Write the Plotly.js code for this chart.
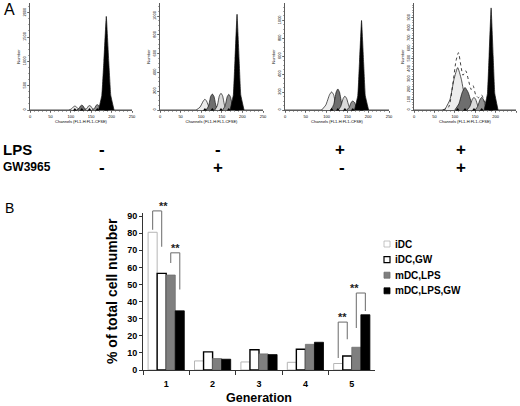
<!DOCTYPE html>
<html><head><meta charset="utf-8">
<script src="https://cdn.plot.ly/plotly-3.0.1.min.js"></script>
<style>html,body{margin:0;padding:0;background:#fff}#chart{width:520px;height:406px}</style>
</head><body><div id="chart"></div><script>
// ---------- Panel B data ----------
const generations = ['1','2','3','4','5'];
const seriesNames = ['iDC','iDC,GW','mDC,LPS','mDC,LPS,GW'];
const iDC      = [80.5, 5.3, 4.7, 4.5, 3.8];
const iDCGW    = [56.5, 10.6, 11.8, 12.1, 8.2];
const mDCLPS   = [55.5, 6.7, 9.4, 15.0, 13.3];
const mDCLPSGW = [34.6, 6.3, 9.0, 16.2, 32.3];
const barTicks = [0,10,20,30,40,50,60,70,80,90];
// significance brackets (generation index, left series, right series, levels)
const sigGen = [0, 0, 4, 4];
const sigLeft = [0, 2, 0, 2];
const sigRight = [1, 3, 1, 3];
const sigTop = [93, 68.5, 28, 45];
const sigLeftBottom = [82, 62.5, 7, 24.5];
const sigRightBottom = [72, 47, 18, 34.5];
const sigLabel = ['**','**','**','**'];

// ---------- Panel A data ----------
const lpsSigns = ['-','-','+','+'];
const gwSigns  = ['-','+','-','+'];
const channelTicks = [0,50,100,150,200,250];
const hist1Ticks = [0,500,1000,1500,2000];
const hist2Ticks = [0,200,400,600,800,1000];
const hist3Ticks = [0,200,400,600,800,1000];
const hist4Ticks = [0,100,200,300,400,500,600,700,800,900];
const histMax = [2200, 1140, 1195, 1045];

const hist1X = [[96,102,107,110,113,118,124],[114,120,124,127,130,134,140],[133,139,143,146,149,153,159],[152,158,162,165,168,172,178],[168,176,181,187,193,198,206]];
const hist1Y = [[0,25,70,80,70,25,0],[0,30,85,100,85,30,0],[0,28,78,90,78,28,0],[0,32,95,110,95,32,0],[0,300,1000,1925,1000,300,0]];
const hist2X = [[88,97,105,109,113,119,125],[112,118,123,127,131,136,142],[133,139,144,148,152,157,163],[152,158,163,167,171,176,182],[170,178,182,187,192,196,204]];
const hist2Y = [[0,30,95,115,95,30,0],[0,45,145,170,145,45,0],[0,45,150,178,150,45,0],[0,42,140,167,140,42,0],[0,160,540,1020,540,160,0]];
const hist3X = [[88,98,107,112,117,122,129],[110,117,123,127,131,137,144],[128,134,140,144,148,154,160],[148,154,159,163,167,172,178],[167,175,179,184,189,193,201]];
const hist3Y = [[0,55,170,202,170,55,0],[0,60,200,235,200,60,0],[0,40,130,154,130,40,0],[0,25,85,100,85,25,0],[0,160,530,1000,530,160,0]];
const hist4X = [[75,88,98,107,116,126,140],[100,110,118,125,133,142,155],[130,137,143,147,151,157,164],[150,156,162,166,170,176,182],[172,180,184,189,194,198,206]];
const hist4Y = [[0,100,300,414,300,100,0],[0,60,170,220,170,60,0],[0,35,105,123,105,35,0],[0,35,105,123,105,35,0],[0,160,530,997,530,160,0]];
const hist4EnvX = [70,85,95,103,109,115,120,127,133,140,145,151,158,166,172,178];
const hist4EnvY = [0,30,250,480,560,430,340,383,300,200,237,150,120,146,90,60];
const peakCenters1 = [110,127,146,165,187];
const peakCenters2 = [109,127,148,167,187];
const peakCenters3 = [112,127,144,163,184];
const peakCenters4 = [107,125,147,166,189];

// ---------- styles ----------
const FONT = 'Liberation Sans, Arial, sans-serif';
const peakFills = ['#ececec','#6e6e6e','#dadada','#8e8e8e','#000000'];
const histXDomains = [[30/520,132/520],[160/520,263/520],[285/520,389/520],[414/520,516/520]];
const histYDomain = [1-110/406, 1-3/406];
const barXDomain = [143/520, 375/520];
const barYDomain = [1-370/406, 1-212.6/406];
const barYMax = 92;

const traces = [];
const layout = {
  width:520, height:406, margin:{l:0,r:0,t:0,b:0},
  paper_bgcolor:'#fff', plot_bgcolor:'rgba(0,0,0,0)',
  showlegend:false, barmode:'group', bargap:0.22, bargroupgap:0,
  font:{family:FONT, color:'#000'},
  shapes:[], annotations:[]
};

const histX = [hist1X,hist2X,hist3X,hist4X];
const histY = [hist1Y,hist2Y,hist3Y,hist4Y];
const histTicks = [hist1Ticks,hist2Ticks,hist3Ticks,hist4Ticks];
const centers = [peakCenters1,peakCenters2,peakCenters3,peakCenters4];

for (let h=0; h<4; h++) {
  const xa = 'x'+(h+1), ya = 'y'+(h+1);
  traces.push({type:'scatter', mode:'lines', x:[0,250], y:[0,0], xaxis:xa, yaxis:ya,
    line:{color:'#222', width:0.8}, showlegend:false, hoverinfo:'skip'});
  for (let p=0; p<histX[h].length; p++) {
    const isMain = p === histX[h].length-1;
    traces.push({type:'scatter', mode:'lines', x:histX[h][p], y:histY[h][p], xaxis:xa, yaxis:ya,
      fill:'toself', fillcolor:peakFills[p], line:{color:'#111', width:0.7, shape:'spline', smoothing:isMain?0.25:0.5},
      showlegend:false, hoverinfo:'skip'});
  }
  if (h===3) {
    traces.push({type:'scatter', mode:'lines', x:hist4EnvX, y:hist4EnvY, xaxis:xa, yaxis:ya,
      line:{color:'#111', width:0.8, dash:'dot', shape:'spline', smoothing:0.6}, showlegend:false, hoverinfo:'skip'});
  }
  traces.push({type:'scatter', mode:'markers', x:centers[h], y:centers[h].map(()=>0), xaxis:xa, yaxis:ya,
    marker:{symbol:'triangle-up', size:4, color:'#000'}, cliponaxis:false, showlegend:false, hoverinfo:'skip'});

  layout['xaxis'+(h+1)] = {domain:histXDomains[h], anchor:ya, range:[0,250], showline:true, linecolor:'#333', linewidth:0.8,
    ticks:'outside', ticklen:2, tickwidth:0.6, tickcolor:'#333', tickvals:channelTicks, tickfont:{size:4, family:FONT},
    minor:{ticks:'outside', dtick:10, ticklen:1, tickwidth:0.5, tickcolor:'#555'},
    showgrid:false, zeroline:false, fixedrange:true,
    title:{text:'Channels (FL1-H:FL1-CFSE)', font:{size:4, family:FONT}, standoff:1}};
  const tks = histTicks[h];
  layout['yaxis'+(h+1)] = {domain:histYDomain, anchor:xa, range:[0,histMax[h]], showline:true, linecolor:'#333', linewidth:0.8,
    ticks:'outside', ticklen:2, tickwidth:0.6, tickcolor:'#333', tickvals:tks, tickangle:-90, tickfont:{size:4, family:FONT},
    minor:{ticks:'outside', dtick:(tks[1]-tks[0])/4, ticklen:1, tickwidth:0.5, tickcolor:'#555'},
    showgrid:false, zeroline:false, fixedrange:true,
    title:{text:'Number', font:{size:4, family:FONT}, standoff:1}};
}

// ---------- Panel B bars ----------
const barSeries = [iDC, iDCGW, mDCLPS, mDCLPSGW];
const barFill = ['#ffffff','#ffffff','#7f7f7f','#000000'];
const barLine = ['#b5b5b5','#000000','#6f6f6f','#000000'];
const barLineW = [1,1.4,0.8,0.8];
for (let s=0; s<4; s++) {
  traces.push({type:'bar', name:seriesNames[s], x:generations, y:barSeries[s], xaxis:'x5', yaxis:'y5',
    marker:{color:barFill[s], line:{color:barLine[s], width:barLineW[s]}}, hoverinfo:'skip'});
}
layout.xaxis5 = {domain:barXDomain, anchor:'y5', type:'category', showline:true, linecolor:'#333', linewidth:1,
  ticks:'outside', tickson:'boundaries', ticklen:4, tickcolor:'#333', ticklabelstandoff:5,
  tickfont:{size:9, family:FONT, weight:'bold'}, showgrid:false, zeroline:false, fixedrange:true};
layout.yaxis5 = {domain:barYDomain, anchor:'x5', range:[0,barYMax], showline:true, linecolor:'#333', linewidth:1,
  ticks:'outside', ticklen:3, tickcolor:'#333', tickvals:barTicks, tickfont:{size:9, family:FONT, weight:'bold'},
  showgrid:false, zeroline:false, fixedrange:true};

// brackets in paper coordinates derived from the bar axis geometry
const barW = (1-layout.bargap)/4;
const catToPaper = c => barXDomain[0] + (c+0.5)/generations.length*(barXDomain[1]-barXDomain[0]);
const valToPaper = v => barYDomain[0] + v/barYMax*(barYDomain[1]-barYDomain[0]);
const barCenter = (g,s) => catToPaper(g + (s-1.5)*barW);
for (let i=0; i<sigGen.length; i++) {
  const xl = barCenter(sigGen[i], sigLeft[i]), xr = barCenter(sigGen[i], sigRight[i]);
  const yt = valToPaper(sigTop[i]);
  const ln = {color:'#777', width:1.1};
  layout.shapes.push({type:'line', xref:'paper', yref:'paper', x0:xl, x1:xl, y0:valToPaper(sigLeftBottom[i]), y1:yt, line:ln});
  layout.shapes.push({type:'line', xref:'paper', yref:'paper', x0:xl, x1:xr, y0:yt, y1:yt, line:ln});
  layout.shapes.push({type:'line', xref:'paper', yref:'paper', x0:xr, x1:xr, y0:valToPaper(sigRightBottom[i]), y1:yt, line:ln});
  layout.annotations.push({xref:'paper', yref:'paper', x:(xl+xr)/2, y:yt, text:sigLabel[i], showarrow:false,
    yanchor:'bottom', yshift:-3, font:{size:11, family:FONT, weight:'bold', color:'#222'}});
}

// ---------- legend (drawn from series list) ----------
const px = v => v/520, py = v => 1 - v/406;
const legX = 384, legY0 = 244, legStep = 15.6, legBox = 6;
for (let s=0; s<4; s++) {
  const cy = legY0 + s*legStep;
  layout.shapes.push({type:'rect', xref:'paper', yref:'paper', x0:px(legX), x1:px(legX+legBox), y0:py(cy+legBox/2), y1:py(cy-legBox/2),
    fillcolor:barFill[s], line:{color:barLine[s], width:s===1?1.2:0.8}});
  layout.annotations.push({xref:'paper', yref:'paper', x:px(legX+legBox+3), y:py(cy), text:seriesNames[s], showarrow:false,
    xanchor:'left', yanchor:'middle', font:{size:10, family:FONT, weight:'bold'}});
}

// ---------- text ----------
layout.annotations.push(
  {xref:'paper', yref:'paper', x:px(2), y:py(10), text:'A', showarrow:false, xanchor:'left', yanchor:'middle', font:{size:16, family:FONT}},
  {xref:'paper', yref:'paper', x:px(3), y:py(208), text:'B', showarrow:false, xanchor:'left', yanchor:'middle', font:{size:14, family:FONT}},
  {xref:'paper', yref:'paper', x:px(1), y:py(149), text:'LPS', showarrow:false, xanchor:'left', yanchor:'middle', font:{size:15, family:FONT, weight:'bold'}},
  {xref:'paper', yref:'paper', x:px(1), y:py(167), text:'GW3965', showarrow:false, xanchor:'left', yanchor:'middle', font:{size:12, family:FONT, weight:'bold'}},
  {xref:'paper', yref:'paper', x:px(112), y:py(291), text:'% of total cell number', textangle:-90, showarrow:false, xanchor:'center', yanchor:'middle', font:{size:14, family:FONT, weight:'bold'}},
  {xref:'paper', yref:'paper', x:px(259), y:py(398), text:'Generation', showarrow:false, xanchor:'center', yanchor:'middle', font:{size:12.5, family:FONT, weight:'bold'}}
);
const signX = [97,218,347,468];
for (let i=0; i<4; i++) {
  layout.annotations.push({xref:'paper', yref:'paper', x:px(signX[i]), y:py(149), text:lpsSigns[i], showarrow:false, font:{size:17, family:FONT, weight:'bold'}});
  layout.annotations.push({xref:'paper', yref:'paper', x:px(signX[i]), y:py(167), text:gwSigns[i], showarrow:false, font:{size:17, family:FONT, weight:'bold'}});
}

Plotly.newPlot('chart', traces, layout, {displayModeBar:false, staticPlot:true});
</script></body></html>
